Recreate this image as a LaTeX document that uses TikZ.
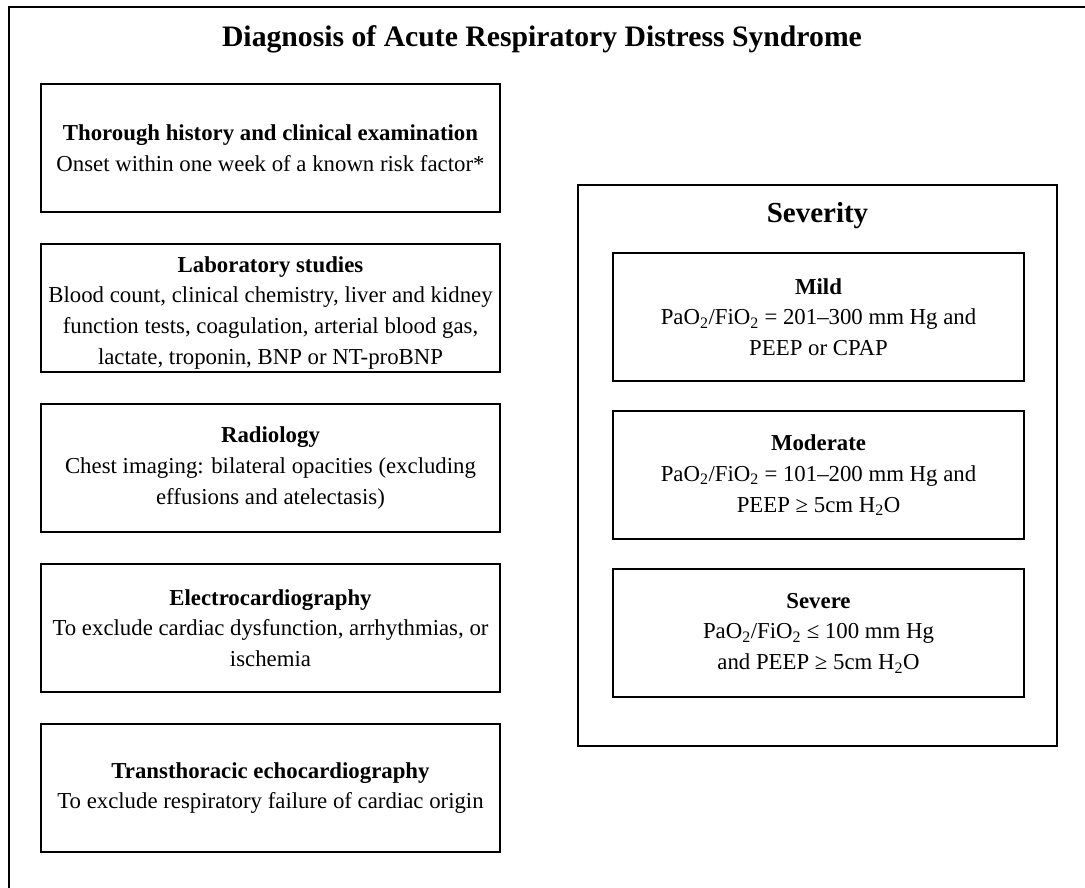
\documentclass[tikz,border=0pt]{standalone}
\usepackage{fontspec}
\setmainfont{Liberation Serif}
\usetikzlibrary{positioning}

\begin{document}
\begin{tikzpicture}[
    x=1pt, y=-1pt,
    node distance=30.6pt,
    infobox/.style={rectangle, draw, line width=1.4pt, minimum width=459pt, minimum height=128pt, inner sep=0pt, align=center, font=\fontsize{22.8}{30.8}\selectfont},
    gradebox/.style={infobox, minimum width=411pt},
    heading/.style={font=\fontsize{29}{33}\selectfont\bfseries}
]
    \useasboundingbox (0,0) rectangle (1085,888);

    % Outer frame (runs off the page at right and bottom)
    \draw[line width=1.4pt] (1085,7) -- (9,7) -- (9,888);

    \node[heading, font=\fontsize{29.7}{33}\selectfont\bfseries] (title) at (542,39) {Diagnosis of Acute Respiratory Distress Syndrome};

    % Diagnostic steps
    \node[infobox] (history) at (270.5,148) {\textbf{Thorough history and clinical examination}\\Onset within one week of a known risk factor*};
    \node[infobox, below=of history, text height=118pt, text depth=5pt] (lab) {\textbf{Laboratory studies}\\Blood count, clinical chemistry, liver and kidney\\function tests, coagulation, arterial blood gas,\\lactate, troponin, BNP or NT-proBNP};
    \node[infobox, below=of lab] (radio) {\textbf{Radiology}\\Chest imaging: bilateral opacities (excluding\\effusions and atelectasis)};
    \node[infobox, below=of radio] (ecg) {\textbf{Electrocardiography}\\To exclude cardiac dysfunction, arrhythmias, or\\ischemia};
    \node[infobox, below=of ecg] (echo) {\textbf{Transthoracic echocardiography}\\To exclude respiratory failure of cardiac origin};

    % Severity
    \node[draw, line width=1.4pt, minimum width=479pt, minimum height=561pt, inner sep=0pt] (severity) at (817.5,465.5) {};
    \node[heading] (sevtitle) at (817.5,216) {Severity};
    \node[gradebox] (mild) at (818.5,317) {\textbf{Mild}\\PaO\textsubscript{2}/FiO\textsubscript{2} = 201--300 mm Hg and\\PEEP or CPAP};
    \node[gradebox, below=28.6pt of mild] (moderate) {\textbf{Moderate}\\PaO\textsubscript{2}/FiO\textsubscript{2} = 101--200 mm Hg and\\PEEP ≥ 5cm H\textsubscript{2}O};
    \node[gradebox, below=28.6pt of moderate] (severe) {\textbf{Severe}\\PaO\textsubscript{2}/FiO\textsubscript{2} ≤ 100 mm Hg\\and PEEP ≥ 5cm H\textsubscript{2}O};
\end{tikzpicture}
\end{document}
